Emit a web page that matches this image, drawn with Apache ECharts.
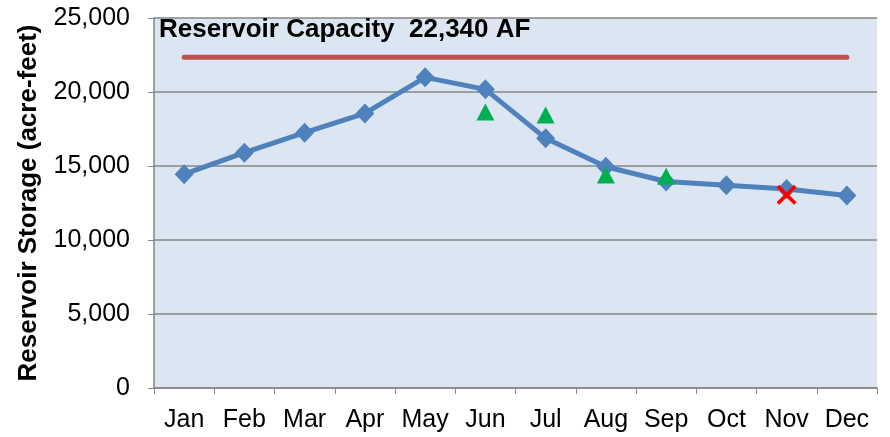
<!DOCTYPE html>
<html>
    <head>
        <meta charset="utf-8">
        <script src="https://cdn.jsdelivr.net/npm/echarts@6/dist/echarts.min.js"></script>
    </head>
    <body>
        <style>
            html, body, #main {
                width: 100%;
                height: 100%;
                margin: 0;
            }
        </style>
        <div id="main"></div>
        <script>

            var months = ['Jan', 'Feb', 'Mar', 'Apr', 'May', 'Jun', 'Jul', 'Aug', 'Sep', 'Oct', 'Nov', 'Dec'];
            var storage = [14450, 15900, 17250, 18550, 20990, 20180, 16870, 14950, 13950, 13700, 13450, 13000];
            var capacity = 22340;
            var capacityLine = months.map(function () { return capacity; });
            // green triangles (observed) and the red cross
            var observed = [null, null, null, null, null, 18650, 18450, 14400, 14300, null, null, null];
            var flagged = [null, null, null, null, null, null, null, null, null, null, 13050, null];

            var chart = echarts.init(document.getElementById('main'));

            var font = 'Liberation Sans, Arial, sans-serif';

            chart.setOption({
                animation: false,
                title: {
                    text: 'Reservoir Capacity  22,340 AF',
                    left: 159,
                    top: 17,
                    padding: 0,
                    textStyle: {
                        fontFamily: font,
                        fontSize: 26,
                        fontWeight: 'bold',
                        color: '#000'
                    }
                },
                grid: {
                    left: 154,
                    right: 13,
                    top: 18,
                    bottom: 49,
                    show: true,
                    backgroundColor: '#dce6f2',
                    borderWidth: 0
                },
                xAxis: {
                    type: 'category',
                    data: months,
                    boundaryGap: true,
                    axisLine: { lineStyle: { color: '#868686', width: 1.5 } },
                    axisTick: { show: true, interval: 0, length: 6, lineStyle: { color: '#868686' } },
                    axisLabel: {
                        interval: 0,
                        margin: 20,
                        color: '#000',
                        fontFamily: font,
                        fontSize: 25
                    }
                },
                yAxis: {
                    type: 'value',
                    min: 0,
                    max: 25000,
                    interval: 5000,
                    name: 'Reservoir Storage (acre-feet)',
                    nameLocation: 'middle',
                    nameGap: 112,
                    nameTextStyle: {
                        fontFamily: font,
                        fontSize: 26,
                        fontWeight: 'bold',
                        color: '#000'
                    },
                    axisLine: { show: true, lineStyle: { color: '#868686', width: 1.5 } },
                    axisTick: { show: true, length: 6, lineStyle: { color: '#868686' } },
                    splitLine: { lineStyle: { color: '#868686', width: 1.5 } },
                    axisLabel: {
                        margin: 24,
                        color: '#000',
                        fontFamily: font,
                        fontSize: 25,
                        formatter: function (v) {
                            return v.toLocaleString('en-US');
                        }
                    }
                },
                series: [{
                    name: 'Capacity',
                    type: 'line',
                    data: capacityLine,
                    symbol: 'none',
                    lineStyle: { color: '#c0504d', width: 5, cap: 'round' }
                }, {
                    name: 'Storage',
                    type: 'line',
                    data: storage,
                    symbol: 'diamond',
                    symbolSize: [19, 20],
                    itemStyle: { color: '#4f81bd' },
                    lineStyle: { color: '#4f81bd', width: 5 }
                }, {
                    name: 'Observed',
                    type: 'scatter',
                    z: 5,
                    data: observed,
                    symbol: 'triangle',
                    symbolSize: [18, 17],
                    itemStyle: { color: '#00b050', opacity: 1 }
                }, {
                    name: 'Flagged',
                    type: 'scatter',
                    z: 5,
                    data: flagged,
                    symbol: 'path://M0,2.6 L2.6,0 L10,7.4 L17.4,0 L20,2.6 L12.6,10 L20,17.4 L17.4,20 L10,12.6 L2.6,20 L0,17.4 L7.4,10 Z',
                    symbolSize: 20,
                    itemStyle: { color: '#ff0000', opacity: 1 }
                }]
            });

        </script>
    </body>
</html>
